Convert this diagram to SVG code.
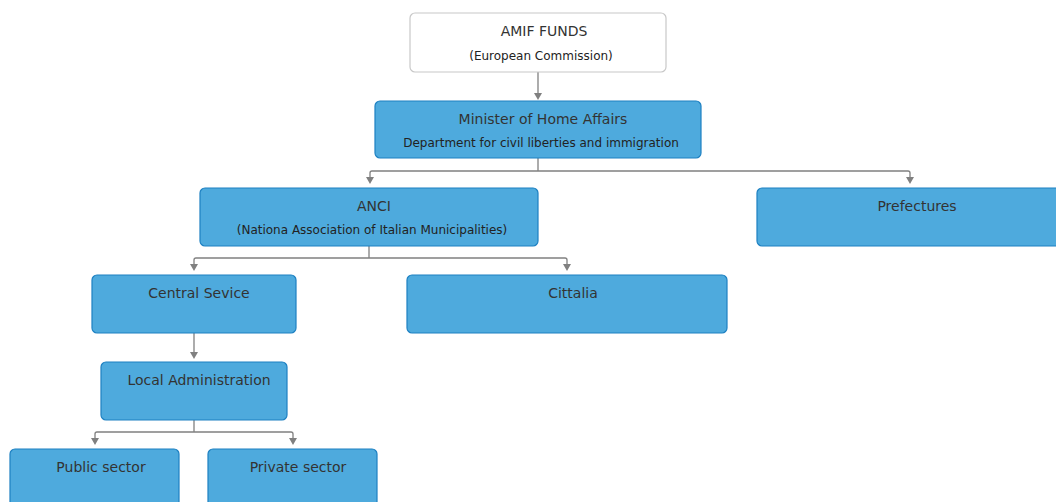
<svg xmlns="http://www.w3.org/2000/svg" width="1056" height="502" viewBox="0 0 1056 502">
<style>
.n{fill:#4eaadd;stroke:#1d80c2;stroke-width:1.2}
.w{fill:#fff;stroke:#c8c8c8;stroke-width:1.2}
.t{font-family:"DejaVu Sans",Verdana,sans-serif;font-size:14px;fill:#333;text-anchor:middle}
.s{font-family:"DejaVu Sans",Verdana,sans-serif;font-size:12px;fill:#222;text-anchor:middle}
.c{fill:none;stroke:#808080;stroke-width:1.3}
.h{fill:#808080}
</style>
<rect width="1056" height="502" fill="#fff"/>
<g id="connectors">
<path class="c" d="M538,72 V94"/>
<path class="h" d="M534,93 L542,93 L538,100 Z"/>
<path class="c" d="M538,158 V171 M370,178 V173 Q370,171 372,171 H908 Q910,171 910,173 V178"/>
<path class="h" d="M366,177 L374,177 L370,184 Z M906,177 L914,177 L910,184 Z"/>
<path class="c" d="M369,246 V258 M194,265 V260 Q194,258 196,258 H565 Q567,258 567,260 V265"/>
<path class="h" d="M190,264 L198,264 L194,271 Z M563,264 L571,264 L567,271 Z"/>
<path class="c" d="M194,333 V353"/>
<path class="h" d="M190,352 L198,352 L194,359 Z"/>
<path class="c" d="M194,420 V432 M95,439 V434 Q95,432 97,432 H291 Q293,432 293,434 V439"/>
<path class="h" d="M91,438 L99,438 L95,445 Z M289,438 L297,438 L293,445 Z"/>
</g>
<g id="amif">
<rect class="w" x="410" y="13" width="256" height="59" rx="5"/>
<text class="t" x="544" y="36">AMIF FUNDS</text>
<text class="s" x="541" y="60">(European Commission)</text>
</g>
<g id="minister">
<rect class="n" x="375" y="101" width="326" height="57" rx="5"/>
<text class="t" x="543" y="124">Minister of Home Affairs</text>
<text class="s" x="541" y="147">Department for civil liberties and immigration</text>
</g>
<g id="anci">
<rect class="n" x="200" y="188" width="338" height="58" rx="5"/>
<text class="t" x="374" y="211">ANCI</text>
<text class="s" x="372" y="234">(Nationa Association of Italian Municipalities)</text>
</g>
<g id="prefectures">
<rect class="n" x="757" y="188" width="305" height="58" rx="5"/>
<text class="t" x="917" y="211">Prefectures</text>
</g>
<g id="central">
<rect class="n" x="92" y="275" width="204" height="58" rx="5"/>
<text class="t" x="199" y="298">Central Sevice</text>
</g>
<g id="cittalia">
<rect class="n" x="407" y="275" width="320" height="58" rx="5"/>
<text class="t" x="573" y="298">Cittalia</text>
</g>
<g id="local">
<rect class="n" x="101" y="362" width="186" height="58" rx="5"/>
<text class="t" x="199" y="385">Local Administration</text>
</g>
<g id="public">
<rect class="n" x="10" y="449" width="169" height="60" rx="5"/>
<text class="t" x="101" y="472">Public sector</text>
</g>
<g id="private">
<rect class="n" x="208" y="449" width="169" height="60" rx="5"/>
<text class="t" x="298" y="472">Private sector</text>
</g>
</svg>
